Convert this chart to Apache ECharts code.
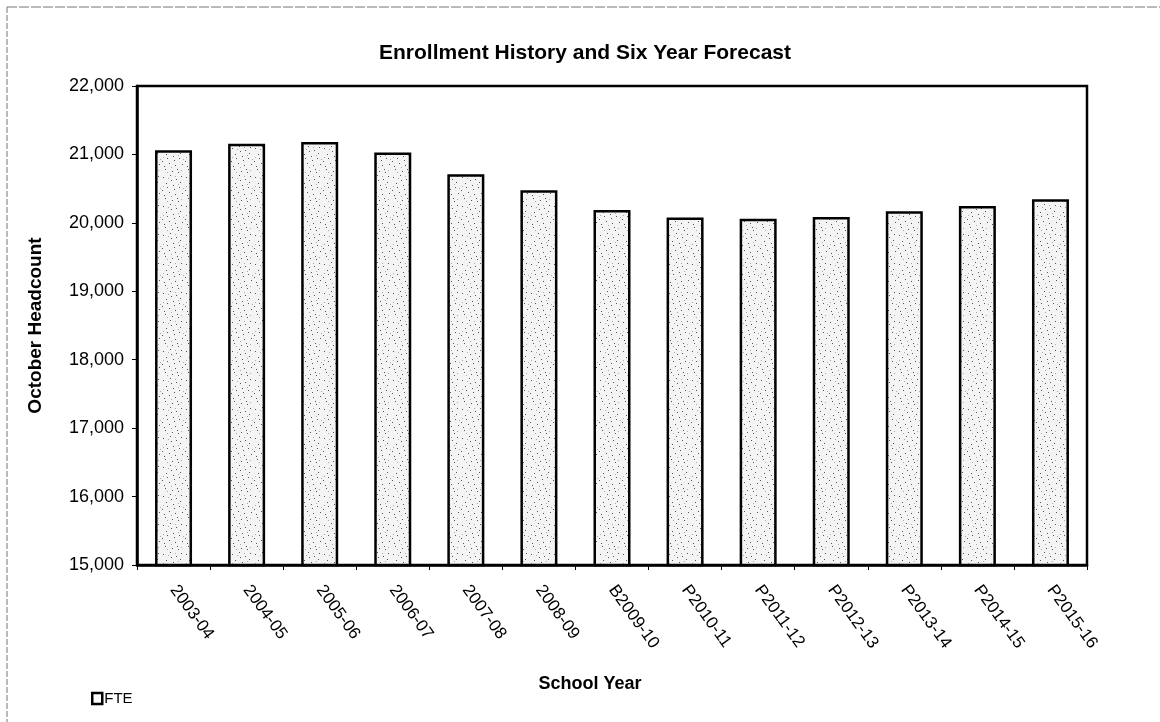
<!DOCTYPE html>
<html>
<head>
<meta charset="utf-8">
<script src="https://cdn.jsdelivr.net/npm/echarts@6/dist/echarts.min.js"></script>
<style>
html,body{margin:0;padding:0;background:#fff;}
#chart{width:1160px;height:722px;}
</style>
</head>
<body>
<div id="chart"></div>
<script>
const categories = ['2003-04','2004-05','2005-06','2006-07','2007-08','2008-09','B2009-10','P2010-11','P2011-12','P2012-13','P2013-14','P2014-15','P2015-16'];
const fteValues = [21060, 21155, 21180, 21030, 20710, 20475, 20188, 20080, 20060, 20085, 20170, 20245, 20345];
const yTicks = { min: 15000, max: 22000, step: 1000 };

// stipple texture (fixed dot layout)
function makePattern(){
  const c = document.createElement('canvas');
  c.width = 23; c.height = 29;
  const g = c.getContext('2d');
  g.fillStyle = '#f4f4f4';
  g.fillRect(0,0,c.width,c.height);
  const dots = [[2,3],[9,1],[15,5],[20,2],[5,9],[12,11],[18,13],[1,16],[8,18],[14,20],[21,19],[4,24],[11,26],[17,27],[6,13],[19,8],[13,15],[3,21],[16,24],[10,6]];
  g.fillStyle = '#555';
  dots.forEach(d=>g.fillRect(d[0],d[1],1,1));
  g.fillStyle = '#aaa';
  [[7,4],[17,10],[2,12],[10,22],[20,25],[14,2],[6,27],[22,14]].forEach(d=>g.fillRect(d[0],d[1],1,1));
  return c;
}
const pattern = { image: makePattern(), repeat: 'repeat' };
const FONT = 'Arial, Liberation Sans';

const chart = echarts.init(document.getElementById('chart'));
chart.setOption({
  backgroundColor: '#fff',
  animation: false,
  title: {
    text: 'Enrollment History and Six Year Forecast',
    left: 580, textAlign: 'center', top: 38,
    textStyle: { fontFamily: FONT, fontWeight: 'bold', fontSize: 21, color: '#000' }
  },
  legend: {
    left: 86, top: 686,
    itemWidth: 10, itemHeight: 11, itemGap: 2,
    textStyle: { fontFamily: FONT, fontSize: 15, color: '#000', padding: [0,0,0,-3] },
    data: [{ name: 'FTE', icon: 'rect', itemStyle: { color: '#fff', borderColor: '#000', borderWidth: 2.5 } }]
  },
  grid: {
    left: 137, right: 73, top: 86, bottom: 157,
    show: true, borderColor: '#000', borderWidth: 2.5, backgroundColor: '#fff'
  },
  xAxis: {
    type: 'category',
    data: categories,
    axisLine: { lineStyle: { color: '#000', width: 2.5 } },
    axisTick: { show: true, length: 5, lineStyle: { color: '#000', width: 1 } },
    axisLabel: { rotate: -54, margin: 22, fontFamily: FONT, fontSize: 17, color: '#000' }
  },
  yAxis: {
    type: 'value',
    min: yTicks.min, max: yTicks.max, interval: yTicks.step,
    name: 'October Headcount',
    nameLocation: 'middle',
    nameGap: 92,
    nameTextStyle: { fontFamily: FONT, fontWeight: 'bold', fontSize: 19, color: '#000' },
    axisLine: { show: true, lineStyle: { color: '#000', width: 2.5 } },
    axisTick: { show: true, length: 5, lineStyle: { color: '#000', width: 1 } },
    splitLine: { show: false },
    axisLabel: {
      margin: 13, fontFamily: FONT, fontSize: 18, color: '#000',
      formatter: v => v.toLocaleString('en-US')
    }
  },
  series: [{
    name: 'FTE',
    type: 'bar',
    data: fteValues,
    barWidth: 37,
    itemStyle: { color: pattern, borderColor: '#000', borderWidth: 2.5 }
  }],
  graphic: [
    { type: 'line', shape: { x1: 7, y1: 7, x2: 7, y2: 722 }, style: { stroke: '#777', lineWidth: 1, lineDash: [6, 2] } },
    { type: 'line', shape: { x1: 7, y1: 7, x2: 1160, y2: 7 }, style: { stroke: '#777', lineWidth: 1, lineDash: [10, 2] } },
    { type: 'text', x: 590, y: 684, style: { text: 'School Year', fontFamily: FONT, fontWeight: 'bold', fontSize: 18, fill: '#000', textAlign: 'center', textVerticalAlign: 'middle' } }
  ]
});
</script>
</body>
</html>
